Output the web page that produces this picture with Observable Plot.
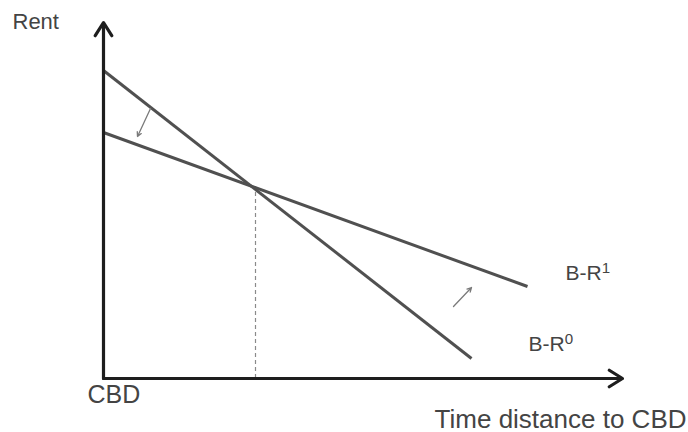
<!DOCTYPE html>
<html>
<head>
<meta charset="utf-8">
<script src="https://cdn.jsdelivr.net/npm/d3@7"></script>
<script src="https://cdn.jsdelivr.net/npm/@observablehq/plot@0.6"></script>
<style>
  html, body { margin: 0; padding: 0; background: #fff; }
  #chart svg { display: block; }
</style>
</head>
<body>
<div id="chart"></div>
<script>
// Bid-rent curves (schematic units: distance from CBD, rent)
const br0X = [0, 368];
const br0Y = [308, 20];
const br1X = [0, 424];
const br1Y = [246, 92];
const curveLabels = ["B-R0", "B-R1"];
const labelX = [425, 462];
const labelY = [28, 99];

// Intersection (equilibrium distance) marked with a dashed drop line
const equilibriumX = 152;
const equilibriumY = 192;

// Shift arrows: [x1, y1, x2, y2]
const shiftArrow1 = [47, 270, 34, 242];
const shiftArrow2 = [350, 72, 368, 91];

// Axis extents and labels
const xAxisEnd = 519;
const yAxisEnd = 356;
const axisTitles = ["Rent", "CBD", "Time distance to CBD"];

const curves = [
  {x1: br0X[0], y1: br0Y[0], x2: br0X[1], y2: br0Y[1]},
  {x1: br1X[0], y1: br1Y[0], x2: br1X[1], y2: br1Y[1]}
];
const shifts = [shiftArrow1, shiftArrow2].map(([x1, y1, x2, y2]) => ({x1, y1, x2, y2}));
const labels = curveLabels.map((t, i) => ({t, x: labelX[i], y: labelY[i]}));

const chart = Plot.plot({
  width: 688,
  height: 432,
  marginLeft: 103,
  marginRight: 66,
  marginTop: 22,
  marginBottom: 54,
  style: {fontFamily: "'Liberation Sans', Arial, sans-serif", background: "#fff"},
  x: {domain: [0, xAxisEnd], axis: null},
  y: {domain: [0, yAxisEnd], axis: null},
  marks: [
    // dashed drop line
    Plot.ruleX([equilibriumX], {y1: 0, y2: equilibriumY, stroke: "#8a8a8a", strokeWidth: 1.2, strokeDasharray: "4,3"}),
    // bid-rent curves
    Plot.link(curves, {x1: "x1", y1: "y1", x2: "x2", y2: "y2", stroke: "#505050", strokeWidth: 3}),
    // shift arrows
    Plot.arrow(shifts, {x1: "x1", y1: "y1", x2: "x2", y2: "y2", stroke: "#7a7a7a", strokeWidth: 1.3, headLength: 5.5, headAngle: 55}),
    // axes
    Plot.arrow([{x1: 0, y1: 0, x2: 0, y2: yAxisEnd}], {x1: "x1", y1: "y1", x2: "x2", y2: "y2", stroke: "#1e1e1e", strokeWidth: 3.2, headLength: 7.3, headAngle: 64, clip: false}),
    Plot.arrow([{x1: 0, y1: 0, x2: xAxisEnd, y2: 0}], {x1: "x1", y1: "y1", x2: "x2", y2: "y2", stroke: "#1e1e1e", strokeWidth: 3.2, headLength: 7.3, headAngle: 64, clip: false}),
    // curve labels
    Plot.text(labels, {x: "x", y: "y", text: "t", textAnchor: "start", lineAnchor: "bottom", fontSize: 21, fill: "#444"}),
    // axis titles
    Plot.text([axisTitles[0]], {x: -91, y: 350, text: d => d, textAnchor: "start", lineAnchor: "bottom", fontSize: 22, fill: "#444"}),
    Plot.text([axisTitles[1]], {x: -16, y: -24, text: d => d, textAnchor: "start", lineAnchor: "bottom", fontSize: 25, fill: "#444"}),
    Plot.text([axisTitles[2]], {x: 583, y: -49, text: d => d, textAnchor: "end", lineAnchor: "bottom", fontSize: 26, fill: "#444"})
  ]
});

// superscripts for curve labels
d3.select(chart).selectAll("text").each(function() {
  const m = /^B-R(\d)$/.exec(this.textContent);
  if (m) {
    const sel = d3.select(this);
    sel.text("B-R");
    sel.append("tspan").attr("dy", "-0.45em").attr("font-size", "0.72em").text(m[1]);
  }
});

document.getElementById("chart").appendChild(chart);
</script>
</body>
</html>
